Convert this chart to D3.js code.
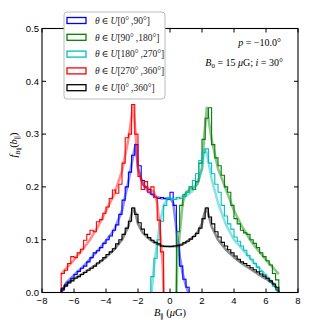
<!DOCTYPE html>
<html>
<head>
<meta charset="utf-8">
<script src="https://cdn.jsdelivr.net/npm/d3@7"></script>
<style>
  body { margin: 0; background: #fff; }
  text { font-family: "Liberation Sans", Arial, sans-serif; }
  .serif { font-family: "Liberation Serif", "DejaVu Serif", serif; }
</style>
</head>
<body>
<div id="chart"></div>
<script>
(function(){
  // histogram bins, width 0.2 muG
  const binWidth = 0.2;

  const blueStart = -6.8;
  const blueHist = [0.005, 0.012, 0.02, 0.027, 0.034, 0.04, 0.046, 0.05, 0.058, 0.066,
    0.075, 0.079, 0.085, 0.093, 0.1, 0.107, 0.118, 0.128, 0.148, 0.175,
    0.2, 0.228, 0.26, 0.28, 0.24, 0.212, 0.2, 0.195, 0.186, 0.18,
    0.178, 0.18, 0.178, 0.176, 0.19, 0.165, 0.09, 0.05, 0.025, 0.01];

  const greenStart = 0.4;
  const greenHist = [0.115, 0.165, 0.185, 0.19, 0.2, 0.195, 0.21, 0.245, 0.29, 0.33,
    0.35, 0.28, 0.255, 0.24, 0.222, 0.2, 0.19, 0.165, 0.14, 0.13,
    0.118, 0.113, 0.11, 0.1, 0.093, 0.085, 0.075, 0.068, 0.06, 0.052,
    0.036, 0.024];

  const cyanStart = -1.2;
  const cyanHist = [0.03, 0.065, 0.1, 0.135, 0.165, 0.18, 0.178, 0.176, 0.18, 0.178,
    0.182, 0.19, 0.2, 0.212, 0.225, 0.25, 0.265, 0.272, 0.245, 0.225,
    0.205, 0.19, 0.165, 0.145, 0.13, 0.12, 0.105, 0.097, 0.088, 0.08,
    0.07, 0.063, 0.055, 0.048, 0.04, 0.034, 0.027, 0.02, 0.012, 0.005];

  const redStart = -6.8;
  const redHist = [0.036, 0.042, 0.055, 0.068, 0.066, 0.075, 0.082, 0.099, 0.11, 0.118,
    0.115, 0.134, 0.138, 0.15, 0.162, 0.178, 0.194, 0.188, 0.205, 0.245,
    0.293, 0.3, 0.356, 0.3, 0.22, 0.195, 0.21, 0.19, 0.2, 0.18,
    0.137, 0.077];

  const blackStart = -6.8;
  const blackHist = [0.008, 0.014, 0.018, 0.022, 0.027, 0.03, 0.034, 0.038, 0.042, 0.046,
    0.05, 0.056, 0.06, 0.066, 0.072, 0.077, 0.083, 0.092, 0.1, 0.11,
    0.122, 0.135, 0.16, 0.148, 0.132, 0.12, 0.11, 0.104, 0.099, 0.095,
    0.092, 0.088, 0.087, 0.087, 0.087, 0.088, 0.089, 0.09, 0.094, 0.097,
    0.101, 0.106, 0.112, 0.122, 0.14, 0.16, 0.143, 0.13, 0.115, 0.105,
    0.095, 0.088, 0.081, 0.075, 0.069, 0.063, 0.058, 0.055, 0.051, 0.047,
    0.043, 0.039, 0.035, 0.031, 0.027, 0.022, 0.016, 0.01];

  // model curves (lighter lines)
  const blueModelX = [-6.8, -6.5, -6, -5.5, -5, -4.5, -4, -3.5, -3, -2.6, -2.3, -2.15, -2, -1.7, -1.4, -1, -0.5, 0, 0.2, 0.4, 0.6, 0.8, 1.0, 1.15];
  const blueModelY = [0, 0.018, 0.033, 0.047, 0.063, 0.08, 0.098, 0.118, 0.155, 0.21, 0.26, 0.28, 0.235, 0.205, 0.192, 0.183, 0.178, 0.178, 0.17, 0.12, 0.07, 0.035, 0.012, 0];
  const greenModelX = [0.4, 0.45, 0.6, 0.8, 1, 1.4, 1.7, 2, 2.15, 2.3, 2.6, 3, 3.5, 4, 4.5, 5, 5.5, 6, 6.5, 6.8];
  const greenModelY = [0, 0.05, 0.11, 0.17, 0.19, 0.198, 0.205, 0.235, 0.3, 0.35, 0.29, 0.235, 0.195, 0.155, 0.125, 0.1, 0.08, 0.062, 0.045, 0.035];
  const cyanModelX = [-1.15, -1, -0.8, -0.6, -0.4, -0.2, 0, 0.5, 1, 1.4, 1.7, 2, 2.15, 2.3, 2.6, 3, 3.5, 4, 4.5, 5, 5.5, 6, 6.5, 6.8];
  const cyanModelY = [0, 0.05, 0.095, 0.135, 0.165, 0.176, 0.178, 0.178, 0.183, 0.192, 0.205, 0.235, 0.27, 0.265, 0.215, 0.17, 0.128, 0.1, 0.083, 0.065, 0.048, 0.033, 0.016, 0];
  const redModelX = [-6.8, -6.5, -6, -5.5, -5, -4.5, -4, -3.5, -3, -2.6, -2.3, -2.15, -2, -1.7, -1.4, -1, -0.8, -0.6, -0.45, -0.4];
  const redModelY = [0.035, 0.045, 0.062, 0.08, 0.1, 0.125, 0.155, 0.185, 0.23, 0.29, 0.355, 0.3, 0.235, 0.205, 0.198, 0.19, 0.17, 0.11, 0.05, 0];
  const blackModelX = [-6.8, -6.5, -6, -5.5, -5, -4.5, -4, -3.5, -3, -2.6, -2.3, -2.15, -2, -1.7, -1.4, -1, -0.5, 0, 0.5, 1, 1.4, 1.7, 2, 2.15, 2.3, 2.6, 3, 3.5, 4, 4.5, 5, 5.5, 6, 6.5, 6.8];
  const blackModelY = [0, 0.016, 0.026, 0.035, 0.045, 0.055, 0.067, 0.081, 0.1, 0.125, 0.16, 0.15, 0.13, 0.113, 0.104, 0.095, 0.088, 0.087, 0.088, 0.095, 0.104, 0.113, 0.13, 0.15, 0.16, 0.125, 0.1, 0.081, 0.067, 0.055, 0.045, 0.035, 0.026, 0.016, 0];

  const legendLabels = [
    ["0°", "90°"], ["90°", "180°"], ["180°", "270°"], ["270°", "360°"], ["0°", "360°"]
  ];
  const xTicks = [-8, -6, -4, -2, 0, 2, 4, 6, 8];
  const yTicks = [0, 0.1, 0.2, 0.3, 0.4, 0.5];

  const series = [
    { start: blueStart, hist: blueHist, mx: blueModelX, my: blueModelY, color: "#0000ff" },
    { start: greenStart, hist: greenHist, mx: greenModelX, my: greenModelY, color: "#008000" },
    { start: cyanStart, hist: cyanHist, mx: cyanModelX, my: cyanModelY, color: "#00bfbf" },
    { start: redStart, hist: redHist, mx: redModelX, my: redModelY, color: "#ff0000" },
    { start: blackStart, hist: blackHist, mx: blackModelX, my: blackModelY, color: "#000000" }
  ];

  const W = 331, H = 327;
  const left = 42, right = 298, top = 28.5, bottom = 292.5;

  const svg = d3.select("#chart").append("svg")
    .attr("width", W).attr("height", H);

  const x = d3.scaleLinear().domain([-8, 8]).range([left, right]);
  const y = d3.scaleLinear().domain([0, 0.5]).range([bottom, top]);

  svg.append("clipPath").attr("id", "plot")
    .append("rect").attr("x", left).attr("y", top)
    .attr("width", right - left).attr("height", bottom - top);

  const line = d3.line().x(d => x(d[0])).y(d => y(d[1]));
  const g = svg.append("g").attr("clip-path", "url(#plot)");

  series.forEach(s => {
    // step outline like histtype='step'
    const pts = [[s.start, 0]];
    s.hist.forEach((h, i) => {
      const x0 = s.start + i * binWidth;
      pts.push([x0, h], [x0 + binWidth, h]);
    });
    pts.push([s.start + s.hist.length * binWidth, 0]);
    g.append("path").attr("d", line(pts))
      .attr("fill", "none").attr("stroke", s.color).attr("stroke-width", 1.1);

    g.append("path").attr("d", line(s.mx.map((v, i) => [v, s.my[i]])))
      .attr("fill", "none").attr("stroke", s.color).attr("stroke-width", 2.6)
      .attr("stroke-opacity", 0.45).attr("stroke-linejoin", "round");
  });

  // frame + inward ticks
  svg.append("rect").attr("x", left).attr("y", top)
    .attr("width", right - left).attr("height", bottom - top)
    .attr("fill", "none").attr("stroke", "#000").attr("stroke-width", 1.1);

  const tl = 4;
  xTicks.forEach(t => {
    svg.append("line").attr("x1", x(t)).attr("x2", x(t)).attr("y1", bottom).attr("y2", bottom - tl).attr("stroke", "#000");
    svg.append("line").attr("x1", x(t)).attr("x2", x(t)).attr("y1", top).attr("y2", top + tl).attr("stroke", "#000");
    svg.append("text").attr("x", x(t)).attr("y", bottom + 11.5)
      .attr("text-anchor", "middle").attr("font-size", 9.5)
      .text(t < 0 ? "\u2212" + Math.abs(t) : t);
  });
  yTicks.forEach(t => {
    svg.append("line").attr("x1", left).attr("x2", left + tl).attr("y1", y(t)).attr("y2", y(t)).attr("stroke", "#000");
    svg.append("line").attr("x1", right).attr("x2", right - tl).attr("y1", y(t)).attr("y2", y(t)).attr("stroke", "#000");
    svg.append("text").attr("x", left - 3).attr("y", y(t) + 3.3)
      .attr("text-anchor", "end").attr("font-size", 9.5)
      .text(t.toFixed(1));
  });

  // axis labels
  const xl = svg.append("text").attr("class", "serif")
    .attr("x", 170).attr("y", 316).attr("text-anchor", "middle").attr("font-size", 10.5);
  xl.append("tspan").attr("font-style", "italic").text("B");
  xl.append("tspan").attr("font-size", 7).attr("dy", 2.5).text("\u2225");
  xl.append("tspan").attr("dy", -2.5).text(" (");
  xl.append("tspan").attr("font-style", "italic").text("\u03bc");
  xl.append("tspan").text("G)");

  const yl = svg.append("text").attr("class", "serif")
    .attr("transform", "translate(17,145) rotate(-90)")
    .attr("text-anchor", "middle").attr("font-size", 10.5);
  yl.append("tspan").attr("font-style", "italic").text("f");
  yl.append("tspan").attr("font-style", "italic").attr("font-size", 7).attr("dy", 2.5).text("B");
  yl.append("tspan").attr("font-size", 5.5).attr("dy", 1.5).text("\u2225");
  yl.append("tspan").attr("dy", -4).text("(");
  yl.append("tspan").attr("font-style", "italic").text("b");
  yl.append("tspan").attr("font-size", 7).attr("dy", 2.5).text("\u2225");
  yl.append("tspan").attr("dy", -2.5).text(")");

  // annotations
  const a1 = svg.append("text").attr("class", "serif")
    .attr("x", 281).attr("y", 45.5).attr("text-anchor", "end").attr("font-size", 10);
  a1.append("tspan").attr("font-style", "italic").text("p");
  a1.append("tspan").text(" = \u221210.0\u00b0");

  const a2 = svg.append("text").attr("class", "serif")
    .attr("x", 283).attr("y", 65.5).attr("text-anchor", "end").attr("font-size", 10);
  a2.append("tspan").attr("font-style", "italic").text("B");
  a2.append("tspan").attr("font-size", 7).attr("dy", 2).text("0");
  a2.append("tspan").attr("dy", -2).text(" = 15 ");
  a2.append("tspan").attr("font-style", "italic").text("\u03bc");
  a2.append("tspan").text("G;  ");
  a2.append("tspan").attr("font-style", "italic").text("i");
  a2.append("tspan").text(" = 30\u00b0");

  // legend
  const lg = svg.append("g");
  lg.append("rect").attr("x", 64).attr("y", 12).attr("width", 101).attr("height", 87)
    .attr("rx", 3).attr("fill", "#fff").attr("stroke", "#bbb").attr("stroke-width", 1);
  legendLabels.forEach((lab, i) => {
    const cy = 20.5 + i * 16.8;
    lg.append("rect").attr("x", 67).attr("y", cy - 3).attr("width", 19).attr("height", 6)
      .attr("fill", "none").attr("stroke", series[i].color).attr("stroke-width", 1.3);
    const t = lg.append("text").attr("class", "serif")
      .attr("x", 95).attr("y", cy + 3.3).attr("font-size", 9.5).attr("fill", "#222");
    t.append("tspan").attr("font-style", "italic").text("\u03b8");
    t.append("tspan").text("\u2009\u2208\u2009");
    t.append("tspan").attr("font-style", "italic").text("U");
    t.append("tspan").text("[" + lab[0] + "\u2009," + lab[1] + "]");
  });
})();
</script>
</body>
</html>
